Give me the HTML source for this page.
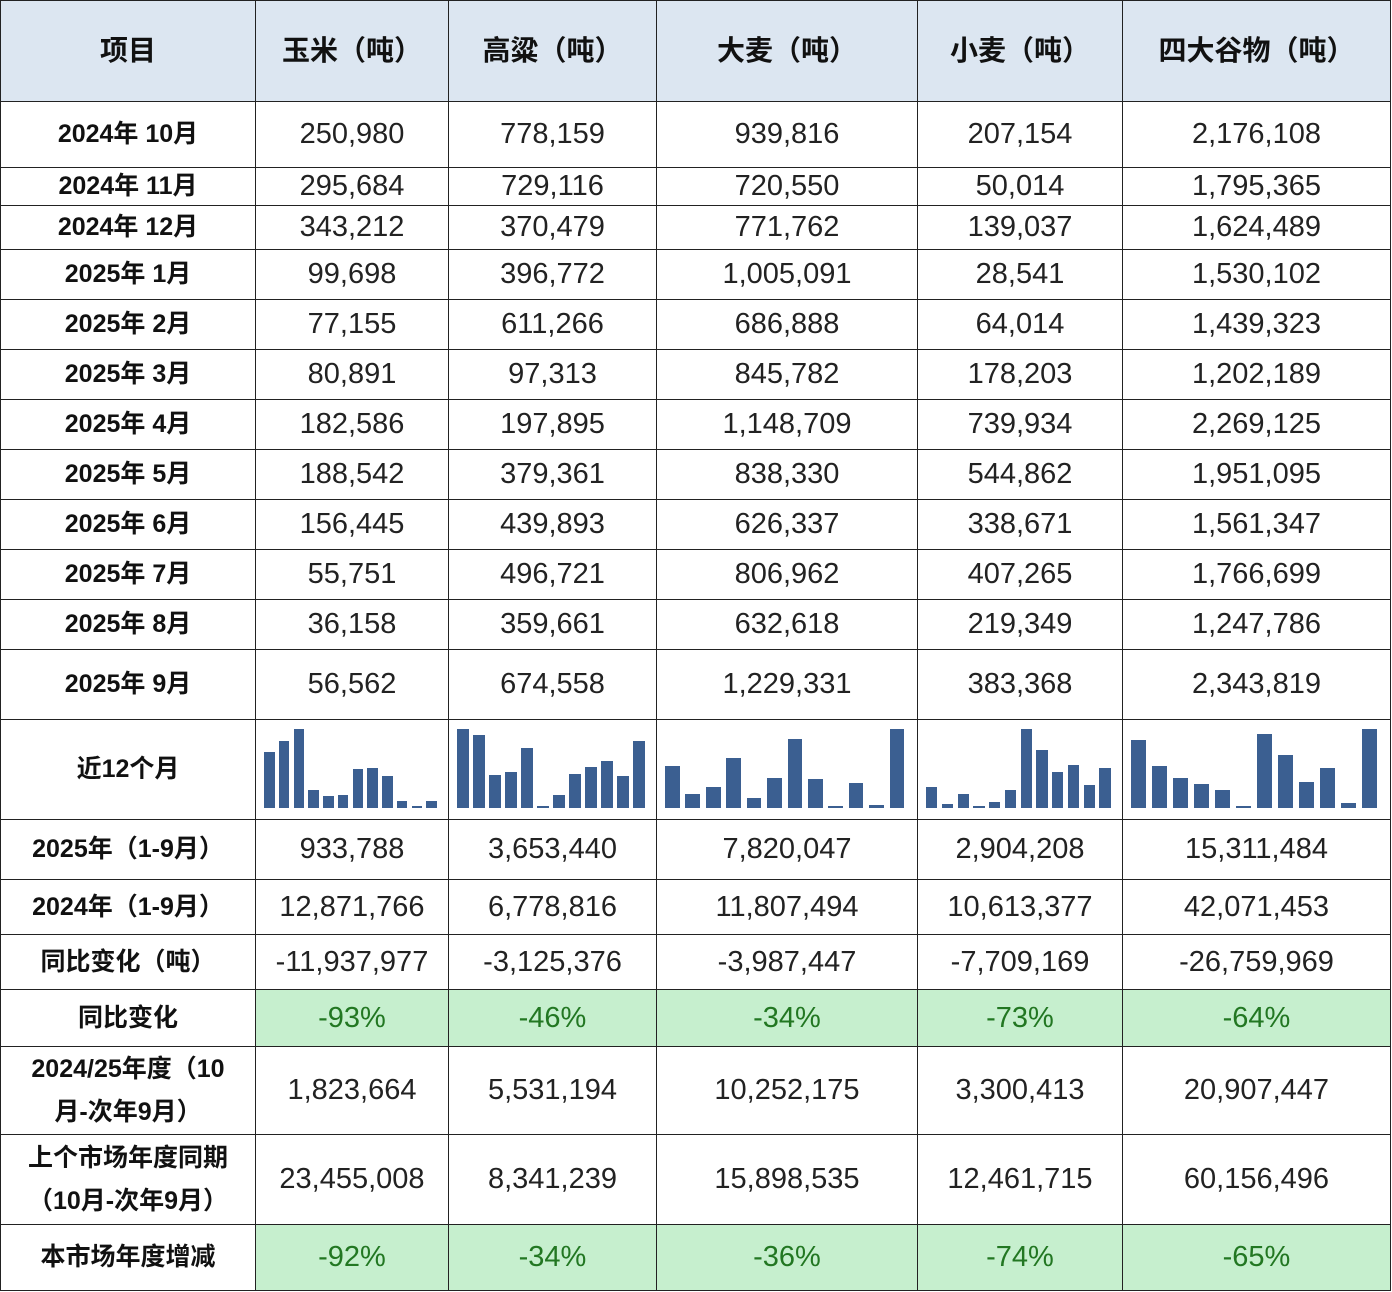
<!DOCTYPE html>
<html><head><meta charset="utf-8">
<style>
html,body{margin:0;padding:0;background:#fff;}
body{width:1392px;height:1292px;overflow:hidden;font-family:"Liberation Sans","Noto Sans CJK SC",sans-serif;}
#grid{position:absolute;left:0;top:0;}
.c{position:absolute;box-sizing:border-box;border-right:1px solid #222;border-bottom:1px solid #222;display:flex;align-items:center;justify-content:center;text-align:center;font-size:29px;color:#222;line-height:1.6;}
.h{background:#dce6f1;font-weight:bold;font-size:28px;color:#111;}
.l{font-weight:bold;font-size:25px;color:#111;line-height:1.7;}
.g{background:#c6efce;color:#227722;}
.b{position:absolute;background:#3b5f91;}
</style></head><body>
<div id="grid"></div>
<script>
const colX=[0,256,449,657,918,1123,1391];
const rowY=[0,102,168,206,250,300,350,400,450,500,550,600,650,720,820,880,935,990,1047,1135,1225,1291];
const headers=["项目","玉米（吨）","高粱（吨）","大麦（吨）","小麦（吨）","四大谷物（吨）"];
const months=["2024年 10月","2024年 11月","2024年 12月","2025年 1月","2025年 2月","2025年 3月","2025年 4月","2025年 5月","2025年 6月","2025年 7月","2025年 8月","2025年 9月"];
const corn=[250980,295684,343212,99698,77155,80891,182586,188542,156445,55751,36158,56562];
const sorghum=[778159,729116,370479,396772,611266,97313,197895,379361,439893,496721,359661,674558];
const barley=[939816,720550,771762,1005091,686888,845782,1148709,838330,626337,806962,632618,1229331];
const wheat=[207154,50014,139037,28541,64014,178203,739934,544862,338671,407265,219349,383368];
const total=[2176108,1795365,1624489,1530102,1439323,1202189,2269125,1951095,1561347,1766699,1247786,2343819];
const series=[corn,sorghum,barley,wheat,total];
const summaryLabels=["2025年（1-9月）","2024年（1-9月）","同比变化（吨）","同比变化","2024/25年度（10<br>月-次年9月）","上个市场年度同期<br>（10月-次年9月）","本市场年度增减"];
const summary=[
["933,788","3,653,440","7,820,047","2,904,208","15,311,484"],
["12,871,766","6,778,816","11,807,494","10,613,377","42,071,453"],
["-11,937,977","-3,125,376","-3,987,447","-7,709,169","-26,759,969"],
["-93%","-46%","-34%","-73%","-64%"],
["1,823,664","5,531,194","10,252,175","3,300,413","20,907,447"],
["23,455,008","8,341,239","15,898,535","12,461,715","60,156,496"],
["-92%","-34%","-36%","-74%","-65%"]];
const greenRows=[3,6];
const g=document.getElementById('grid');
function cell(r,c,html,cls,name){
  const d=document.createElement('div');
  d.className='c '+cls;
  d.style.left=colX[c]+'px';d.style.top=rowY[r]+'px';
  d.style.width=(colX[c+1]-colX[c])+'px';
  d.style.height=(rowY[r+1]-rowY[r])+'px';
  if(c==0)d.style.borderLeft='1px solid #222';
  if(r==0)d.style.borderTop='1px solid #222';
  d.innerHTML=html;
  
  
  g.appendChild(d);return d;
}
const fmt=v=>v.toLocaleString('en-US');
headers.forEach((h,c)=>cell(0,c,h,'h','header-'+c));
months.forEach((m,i)=>{
  cell(i+1,0,m,'l','row-label-'+i);
  series.forEach((s,c)=>cell(i+1,c+1,fmt(s[i]),'','value-r'+i+'-c'+c));
});
const sr=13;
cell(sr,0,'近12个月','l','sparkline-label');
series.forEach((s,c)=>{
  const d=cell(sr,c+1,'','','sparkline-'+c);
  const w=colX[c+2]-colX[c+1]-16, slot=w/12, bw=slot*0.72;
  const mn=Math.min(...s), mx=Math.max(...s);
  s.forEach((v,i)=>{
    const b=document.createElement('div');
    b.className='b';
    const h=2+(v-mn)/(mx-mn)*77;
    b.style.left=(8+i*slot)+'px';b.style.width=bw+'px';
    b.style.top=(88-h)+'px';b.style.height=h+'px';
    
    
    d.appendChild(b);
  });
});
summaryLabels.forEach((l,i)=>{
  const r=sr+1+i;
  const gr=greenRows.includes(i);
  cell(r,0,l,'l','summary-label-'+i);
  summary[i].forEach((v,c)=>cell(r,c+1,v,gr?'g':'','summary-r'+i+'-c'+c));
});
</script>
</body></html>
